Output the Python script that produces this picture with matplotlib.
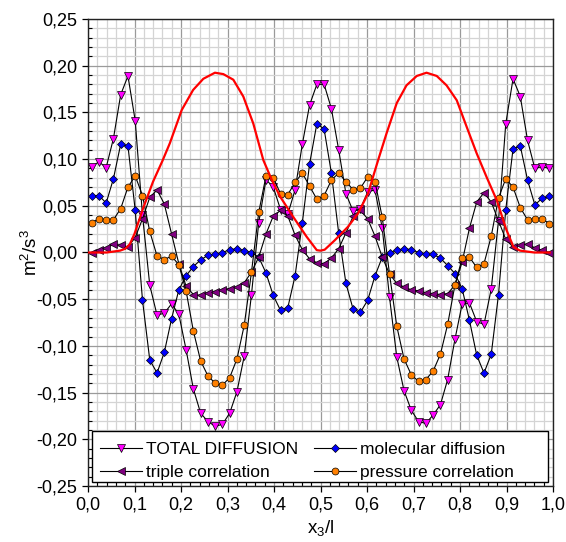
import numpy as np
import matplotlib
matplotlib.use('Agg')
import matplotlib.pyplot as plt
from matplotlib.ticker import MultipleLocator, FuncFormatter
from matplotlib.patches import Rectangle

plt.rcParams['font.family'] = ['Liberation Sans', 'DejaVu Sans']
plt.rcParams['mathtext.fontset'] = 'custom'
plt.rcParams['mathtext.rm'] = 'Liberation Sans'

# 64 cell-centred points across the channel
x = (np.arange(64) + 0.5) / 64

total = [0.092, 0.097, 0.091, 0.122, 0.169, 0.189, 0.141, 0.040,
         -0.035, -0.067, -0.065, -0.055, -0.066, -0.104, -0.146, -0.172,
         -0.181, -0.186, -0.184, -0.172, -0.149, -0.111, -0.045, 0.032,
         0.078, 0.070, 0.046, 0.041, 0.067, 0.116, 0.158, 0.180,
         0.180, 0.154, 0.110, 0.063, 0.044, 0.047, 0.065, 0.067,
         0.026, -0.048, -0.112, -0.148, -0.169, -0.181, -0.183, -0.174,
         -0.163, -0.136, -0.093, -0.055, -0.054, -0.074, -0.077, -0.039,
         0.034, 0.138, 0.186, 0.167, 0.120, 0.090, 0.092, 0.090]

molecular = [0.061, 0.061, 0.053, 0.079, 0.116, 0.114, 0.045, -0.051,
             -0.115, -0.129, -0.107, -0.071, -0.040, -0.025, -0.015, -0.008,
             -0.003, -0.002, 0.000, 0.003, 0.004, 0.002, 0.000, -0.005,
             -0.022, -0.046, -0.062, -0.059, -0.025, 0.032, 0.095, 0.138,
             0.132, 0.085, 0.021, -0.033, -0.061, -0.064, -0.051, -0.025,
             -0.005, 0.000, 0.0025, 0.004, 0.003, 0.000, -0.002, -0.002,
             -0.006, -0.014, -0.0225, -0.039, -0.0725, -0.110, -0.129, -0.109,
             -0.045, 0.046, 0.111, 0.114, 0.0775, 0.051, 0.058, 0.060]

triple = [0.000, 0.003, 0.005, 0.0086, 0.008, 0.006, 0.016, 0.036,
          0.059, 0.067, 0.052, 0.020, -0.012, -0.036, -0.045, -0.046,
          -0.043, -0.042, -0.040, -0.0386, -0.037, -0.0325, -0.021, -0.005,
          0.020, 0.039, 0.045, 0.039, 0.0186, 0.003, -0.0068, -0.011,
          -0.012, -0.006, 0.004, 0.021, 0.039, 0.045, 0.036, 0.0175,
          -0.005, -0.023, -0.033, -0.037, -0.040, -0.041, -0.043, -0.044,
          -0.045, -0.044, -0.035, -0.010, 0.026, 0.054, 0.064, 0.054,
          0.034, 0.014, 0.006, 0.008, 0.009, 0.005, 0.0025, 0.000]

pressure = [0.032, 0.036, 0.035, 0.035, 0.047, 0.070, 0.082, 0.061,
            0.0225, -0.0036, -0.0075, -0.004, -0.013, -0.041, -0.084, -0.116,
            -0.132, -0.140, -0.142, -0.134, -0.114, -0.078, -0.021, 0.043,
            0.082, 0.080, 0.063, 0.062, 0.075, 0.085, 0.071, 0.057,
            0.061, 0.0775, 0.085, 0.076, 0.067, 0.069, 0.081, 0.076,
            0.0375, -0.023, -0.079, -0.114, -0.131, -0.138, -0.136, -0.127,
            -0.109, -0.077, -0.035, -0.006, -0.005, -0.016, -0.012, 0.0175,
            0.0585, 0.079, 0.070, 0.048, 0.035, 0.036, 0.036, 0.031]

# red reference profile (no markers)
red_x = [0.0, 0.04, 0.069, 0.08, 0.09, 0.10, 0.119, 0.14, 0.16, 0.176,
         0.2015, 0.226, 0.248, 0.273, 0.291, 0.3125, 0.334, 0.3555, 0.377, 0.395,
         0.413, 0.4415, 0.470, 0.492, 0.50, 0.509, 0.5305, 0.559, 0.581, 0.602,
         0.624, 0.642, 0.664, 0.685, 0.707, 0.728, 0.75, 0.771, 0.793, 0.814,
         0.836, 0.857, 0.879, 0.90, 0.915, 0.929, 0.96, 0.993]
red_y = [0.0, 0.0, 0.002, 0.004, 0.009, 0.02, 0.048, 0.076, 0.098, 0.117,
         0.1525, 0.174, 0.186, 0.1925, 0.191, 0.185, 0.167, 0.138, 0.099, 0.078,
         0.06, 0.038, 0.017, 0.0025, 0.002, 0.003, 0.013, 0.0275, 0.042, 0.063,
         0.099, 0.1275, 0.16, 0.179, 0.189, 0.1925, 0.189, 0.179, 0.163, 0.135,
         0.106, 0.081, 0.056, 0.024, 0.006, 0.002, 0.0, 0.0]

fig = plt.figure(figsize=(5.66, 5.42), dpi=100)
ax = fig.add_axes([88 / 566, 1 - 486 / 542, 465 / 566, 467 / 542])

# grid
ax.xaxis.set_major_locator(MultipleLocator(0.1))
ax.xaxis.set_minor_locator(MultipleLocator(0.02))
ax.yaxis.set_major_locator(MultipleLocator(0.05))
ax.yaxis.set_minor_locator(MultipleLocator(0.01))
ax.grid(which='minor', color='#d4d4d4', lw=0.9, zorder=0)
ax.grid(which='major', color='#9a9a9a', lw=0.9, zorder=0)
ax.set_axisbelow(True)

ax.plot(x, total, color='black', lw=0.8, marker='v', ms=5.8,
        mfc='#ff00ff', mec='black', mew=0.5, label='TOTAL DIFFUSION')
ax.plot(x, molecular, color='black', lw=0.8, marker='D', ms=4.4,
        mfc='#0000ff', mec='black', mew=0.5, label='molecular diffusion')
ax.plot(x, triple, color='black', lw=0.8, marker='<', ms=5.8,
        mfc='#800080', mec='black', mew=0.5, label='triple correlation')
ax.plot(x, pressure, color='black', lw=0.8, marker='o', ms=5,
        mfc='#ff8000', mec='black', mew=0.5, label='pressure correlation')
ax.plot(red_x, red_y, color='#ff0000', lw=1.6, zorder=3)

ax.set_xlim(0, 1)
ax.set_ylim(-0.25, 0.25)

ax.xaxis.set_major_formatter(FuncFormatter(lambda v, p: f'{v:.1f}'.replace('.', ',')))
ax.yaxis.set_major_formatter(FuncFormatter(lambda v, p: f'{v:.2f}'.replace('.', ',')))
ax.tick_params(which='major', direction='out', length=4, width=0.9, labelsize=13, colors='black')
ax.tick_params(which='minor', direction='in', length=3, width=0.8)
for s in ax.spines.values():
    s.set_linewidth(1.0)
    s.set_color('#222222')

ax.set_xlabel(r'$\mathregular{x_3/l}$', fontsize=13.5, labelpad=3)
ax.set_ylabel(r'$\mathregular{m^2/s^3}$', fontsize=13.5, labelpad=-3)

# legend box (white, black frame) spanning the bottom of the plot
box = Rectangle(((92 - 88) / 465, (486 - 482) / 467), (548 - 92) / 465, (482 - 431) / 467,
                transform=ax.transAxes, facecolor='white', edgecolor='black',
                lw=1.0, zorder=4)
ax.add_patch(box)

h, l = ax.get_legend_handles_labels()
order = [0, 2, 1, 3]
leg = ax.legend([h[i] for i in order], [l[i] for i in order], ncol=2,
                loc='upper left', bbox_to_anchor=((97 - 88) / 465, (486 - 438) / 467),
                frameon=False, fontsize=12.5, handlelength=2.4, handletextpad=0.25,
                columnspacing=0.9, labelspacing=0.5, borderpad=0.2,
                borderaxespad=0)
leg.set_zorder(5)

fig.savefig('out.png', dpi=100)
